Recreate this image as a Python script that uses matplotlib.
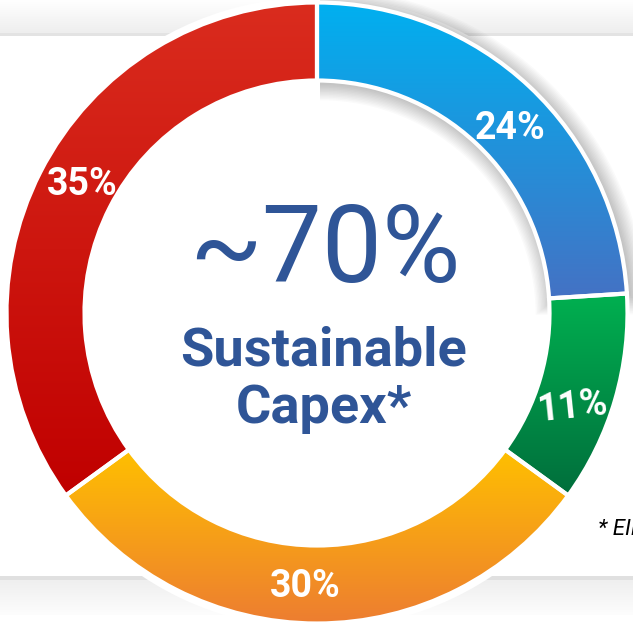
import numpy as np
import matplotlib
matplotlib.use("Agg")
import matplotlib.pyplot as plt
from matplotlib.patches import Wedge, Circle
from matplotlib.colors import to_rgb

# --- data ---
labels = ["24%", "11%", "30%", "35%"]
shares = [24, 11, 30, 35]
top_colors = ["#00b0f0", "#00b050", "#ffc000", "#da2c1e"]
bottom_colors = ["#4472c4", "#006e3c", "#ed7d31", "#c00000"]
center_big = "~70%"
center_lines = ["Sustainable", "Capex*"]
footnote = "* EIB"

plt.rcParams["font.family"] = ["Roboto", "DejaVu Sans"]

W, H = 633, 623
fig = plt.figure(figsize=(W / 100, H / 100), dpi=100)

# background bands in pixel coords
ax0 = fig.add_axes([0, 0, 1, 1])
ax0.set_xlim(0, W)
ax0.set_ylim(H, 0)
ax0.axis("off")


def vgrad(c0, c1, n=256):
    a, b = np.array(to_rgb(c0)), np.array(to_rgb(c1))
    t = np.linspace(0, 1, n)[:, None]
    return (a + (b - a) * t)[:, None, :]


ax0.imshow(vgrad("#ffffff", "#eeeeee"), extent=(0, W, 33, 0), aspect="auto")
ax0.axhspan(33, 35.5, color="#e3e3e3", lw=0)
ax0.axhspan(576, 580, color="#e0e0e0", lw=0)
ax0.imshow(vgrad("#efefef", "#fdfdfd"), extent=(0, W, 615, 580), aspect="auto")
ax0.set_xlim(0, W)
ax0.set_ylim(H, 0)

# donut, one data unit = outer radius (309 px)
px = 1 / 309
ax = fig.add_axes([0, 0, 1, 1])
ax.patch.set_alpha(0)

wedges, _ = ax.pie(shares, radius=1 + 1.5 * px, startangle=90, counterclock=False,
                   colors=top_colors,
                   wedgeprops=dict(width=78 * px, edgecolor="white", linewidth=3))

# white halo behind the ring
ax.add_patch(Circle((0, 0), 1 + 7 * px, fc="white", ec="none", zorder=0.1))

# soft shadow under the blue segment
b = wedges[0]
for i in range(12):
    e = (i + 1) * 1.4 * px
    ax.add_patch(Wedge((3 * px, -3 * px), b.r + e, b.theta1 - 0.3 * i, b.theta2,
                       width=b.width + 2 * e, fc="black", alpha=0.02, lw=0, zorder=0.2))

# vertical gradient fills clipped to each wedge
for w, c0, c1 in zip(wedges, top_colors, bottom_colors):
    bb = w.get_path().get_extents()
    im = ax.imshow(vgrad(c0, c1), extent=(bb.x0, bb.x1, bb.y0, bb.y1),
                   origin="upper", aspect="auto", interpolation="bilinear", zorder=0.5)
    im.set_clip_path(w)
    w.set_facecolor("none")
    w.set_zorder(1)

# percentage labels near the middle of each ring segment
rmid = 1 - 39 * px
for w, lab in zip(wedges, labels):
    ang = np.deg2rad((w.theta1 + w.theta2) / 2 - 2.5)
    rot = 6 if lab == "11%" else 0
    ax.text(rmid * np.cos(ang), rmid * np.sin(ang), lab, color="white",
            fontsize=27, fontweight="bold", ha="center", va="center_baseline",
            rotation=rot, zorder=3)

navy = "#2f5597"
ax.text(8 * px, 31 * px, center_big, color=navy, fontsize=77,
        ha="center", va="baseline", zorder=3)
for k, line in enumerate(center_lines):
    ax.text(7 * px, (-52 - 58 * k) * px, line, color=navy, fontsize=39,
            fontweight="bold", ha="center", va="baseline", zorder=3)
ax.text(281 * px, -222 * px, footnote, color="black", fontsize=16, style="italic",
        ha="left", va="baseline", zorder=3)

ax.set_aspect("auto")
ax.set_xlim(-317 * px, 316 * px)
ax.set_ylim(-310 * px, 313 * px)
ax.axis("off")

fig.savefig("out.png", dpi=100)
